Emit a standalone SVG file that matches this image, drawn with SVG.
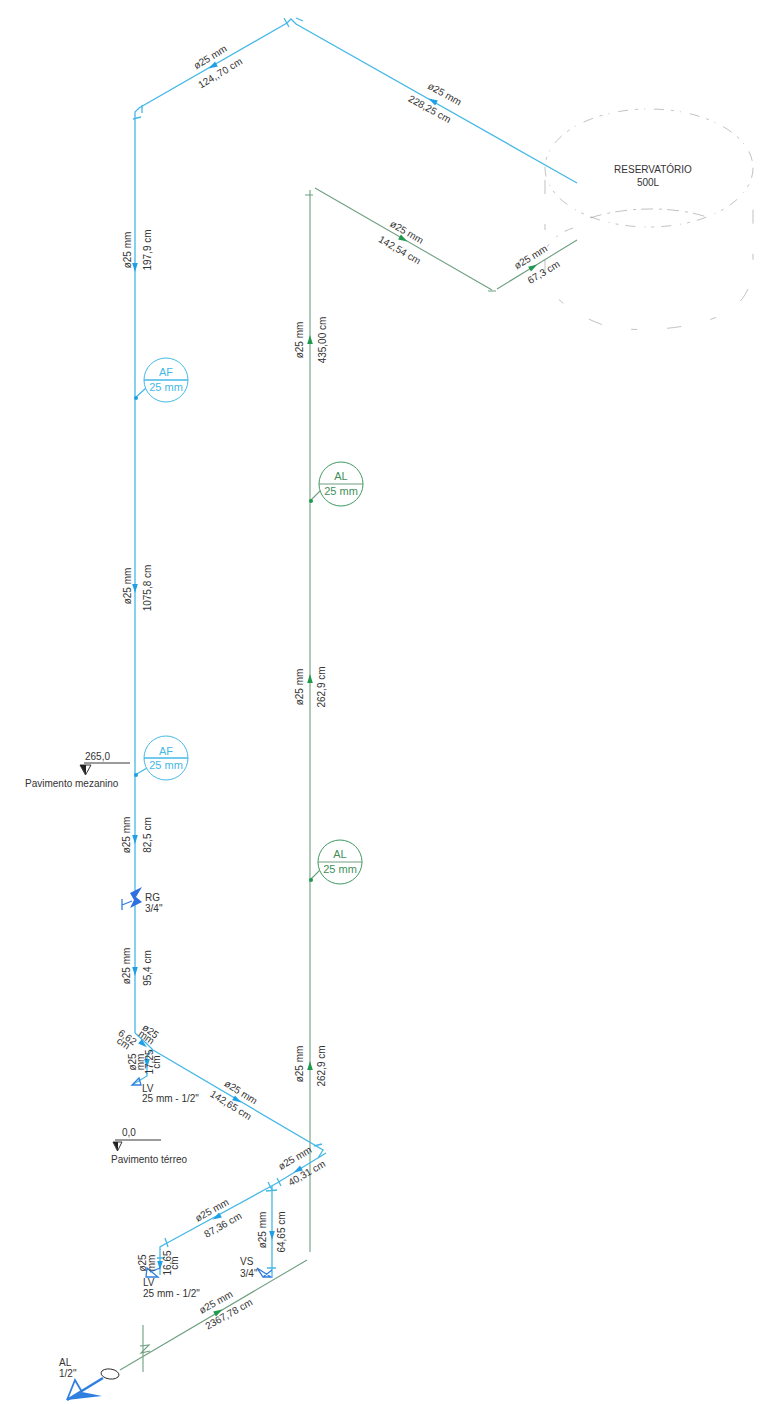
<svg xmlns="http://www.w3.org/2000/svg" xmlns:xlink="http://www.w3.org/1999/xlink" width="763" height="1404" viewBox="0 0 763 1404">
<style>
text{font-family:"Liberation Sans",Arial,sans-serif;font-size:10px;fill:#333}
.b{fill:none;stroke:#45b8e6;stroke-width:1.3}
.g{fill:none;stroke:#6f9f80;stroke-width:1.1}
.t{fill:none;stroke:#666;stroke-width:.8;opacity:.5}
.k{fill:none;stroke:#222;stroke-width:.9}
.ba{fill:#1e9fe6}.ga{fill:#1f9a4d}
.cb{fill:#fff;stroke:#45b8e6;stroke-width:1}
.cg{fill:#fff;stroke:#3f9a5f;stroke-width:1}
.lb{fill:#45b8e6;font-size:11px;text-anchor:middle}
.lg{fill:#3f8f5a;font-size:11px;text-anchor:middle}
.m{text-anchor:middle}
.v{fill:none;stroke:#2f7fe0;stroke-width:1.3}
</style>
<defs><path id="a" d="M5 0L-4 -2.800L-4 2.800Z"/></defs>
<g id="connectors">
<path class="g" d="M143 1325V1372M120 1370L307 1260M310 1252V190M315 188L492 290M497 289L577 240"/>
<path class="g" d="M140 1346L149 1345L141 1353L150 1351"/>
<path class="b" d="M135 1033V112L139 108L287 23L291 19L296 24L577 183"/>
<path class="b" d="M135 1033L146 1043L153 1050L323 1150L318 1158L326 1153L277 1183L167 1243L160 1247V1275"/>
<path class="b" d="M272 1186V1277M152 1050L147 1056V1076L132 1085"/>
<path class="b" d="M142 105L142 113M133 119L141 117M284 18L289 27M296 18L303 21M314 1146L322 1144M268 1182L272 1190M277 1178L281 1186M266 1191L277 1190M165 1238L168 1247M157 1258H164M267 1268H276"/>
<path class="g" d="M305 195H313M488 291H496"/>
<path class="b" d="M135 398L146 388M135 775L147 768"/>
<path class="g" d="M310 501L320 491M310 880L320 870"/>
</g>
<g id="flow-arrows">
<g class="ba">
<use xlink:href="#a" transform="translate(213,66) rotate(150)"/>
<use xlink:href="#a" transform="translate(433,101) rotate(209)"/>
<use xlink:href="#a" transform="translate(135,267) rotate(90)"/>
<use xlink:href="#a" transform="translate(135,588) rotate(90)"/>
<use xlink:href="#a" transform="translate(135,839) rotate(90)"/>
<use xlink:href="#a" transform="translate(135,971) rotate(90)"/>
<use xlink:href="#a" transform="translate(143,1044) rotate(40)"/>
<use xlink:href="#a" transform="translate(147,1063) rotate(90)"/>
<use xlink:href="#a" transform="translate(237,1100) rotate(31)"/>
<use xlink:href="#a" transform="translate(298,1170) rotate(150)"/>
<use xlink:href="#a" transform="translate(217,1217) rotate(150)"/>
<use xlink:href="#a" transform="translate(272,1235) rotate(90)"/>
<use xlink:href="#a" transform="translate(160,1265) rotate(90)"/>
</g>
<g class="ga">
<use xlink:href="#a" transform="translate(310,340) rotate(-90)"/>
<use xlink:href="#a" transform="translate(310,679) rotate(-90)"/>
<use xlink:href="#a" transform="translate(310,1066) rotate(-90)"/>
<use xlink:href="#a" transform="translate(403,239) rotate(30)"/>
<use xlink:href="#a" transform="translate(533,267) rotate(-31)"/>
<use xlink:href="#a" transform="translate(218,1312) rotate(-30)"/>
</g>
</g>
<g id="tank">
<ellipse class="t" cx="649" cy="168" rx="104" ry="59" stroke-dasharray="10 7 3 6 1 9"/>
<path class="t" stroke-dasharray="9 8 2 10" d="M573 228C560 232 552 240 547 247"/>
<path class="t" stroke-dasharray="14 30 6 30" d="M545 180V280C555 305 590 322 613 328C650 332 690 328 717 317C740 308 753 290 753 263V180"/>
<path class="t" stroke-dasharray="12 6 3 5" d="M590 218C620 208 670 204 710 218"/>
<text x="653" y="173" class="m" style="font-weight:500">RESERVATÓRIO</text>
<text x="648" y="186" class="m">500L</text>
</g>
<g id="tag-af-1"><circle class="cb" cx="166" cy="380" r="22"/><path class="b" d="M144 380H188"/><circle class="ba" cx="136" cy="398" r="2"/><text x="166" y="376" class="lb">AF</text><text x="166" y="391" class="lb">25 mm</text></g>
<g id="tag-af-2"><circle class="cb" cx="166" cy="758" r="22"/><path class="b" d="M144 758H188"/><circle class="ba" cx="136" cy="775" r="2"/><text x="166" y="755" class="lb">AF</text><text x="166" y="769" class="lb">25 mm</text></g>
<g id="tag-al-1"><circle class="cg" cx="341" cy="484" r="22"/><path class="g" d="M319 484H363"/><circle class="ga" cx="311" cy="501" r="2"/><text x="341" y="480" class="lg">AL</text><text x="341" y="495" class="lg">25 mm</text></g>
<g id="tag-al-2"><circle class="cg" cx="340" cy="862" r="22"/><path class="g" d="M318 862H362"/><circle class="ga" cx="311" cy="880" r="2"/><text x="340" y="858" class="lg">AL</text><text x="340" y="873" class="lg">25 mm</text></g>
<g id="level-mezanino"><path class="k" d="M84 763H130M80 765H91L85.500 775Z"/><path d="M80 765H86V775Z" style="fill:#222"/><text x="85" y="760">265,0</text><text x="25" y="787">Pavimento mezanino</text></g>
<g id="level-terreo"><path class="k" d="M115 1140H161M113 1142H122L117.500 1151Z"/><path d="M113 1142H118V1151Z" style="fill:#222"/><text x="122" y="1136">0,0</text><text x="111" y="1163">Pavimento térreo</text></g>
<g id="valve-rg"><path style="fill:#2f6fe0" d="M130 893L142 887L136 897L142 902L130 908L134 900Z"/><path class="v" d="M122 899V910M122 905L132 901"/><text x="145" y="901">RG</text><text x="145" y="912">3/4"</text></g>
<g id="lv-upper"><path class="v" d="M132 1085H141L139 1078Z"/><text x="142" y="1092">LV</text><text x="142" y="1102">25 mm - 1/2"</text></g>
<g id="lv-lower"><path class="v" d="M147 1268L158 1277H146ZM150 1272L160 1268"/><text x="143" y="1286">LV</text><text x="143" y="1297">25 mm - 1/2"</text></g>
<g id="vs"><path class="v" d="M257 1268L271 1277H263ZM263 1277L272 1270"/><text x="240" y="1265">VS</text><text x="240" y="1277">3/4"</text></g>
<g id="al-outlet"><ellipse class="k" cx="110" cy="1374" rx="9" ry="5" transform="rotate(8 110 1374)"/><path d="M67 1400L102 1396L82 1392Z" style="fill:#2f7fe0"/><path d="M103 1378L67 1400" style="fill:none;stroke:#2f7fe0;stroke-width:2.500"/><path d="M67 1400L75 1380L82 1392" style="fill:none;stroke:#2f7fe0;stroke-width:1.800"/><text x="59" y="1366">AL</text><text x="59" y="1377">1/2"</text></g>
<g id="labels">
<text class="m" transform="translate(212,60) rotate(-31)">ø25 mm</text>
<text class="m" transform="translate(222,76) rotate(-31)">124,,70 cm</text>
<text class="m" transform="translate(443,97) rotate(29)">ø25 mm</text>
<text class="m" transform="translate(428,112) rotate(29)">228,25 cm</text>
<text class="m" transform="translate(131,250) rotate(-90)">ø25 mm</text>
<text class="m" transform="translate(151,250) rotate(-90)">197,9 cm</text>
<text class="m" transform="translate(131,586) rotate(-90)">ø25 mm</text>
<text class="m" transform="translate(151,588) rotate(-90)">1075,8 cm</text>
<text class="m" transform="translate(130,835) rotate(-90)">ø25 mm</text>
<text class="m" transform="translate(151,835) rotate(-90)">82,5 cm</text>
<text class="m" transform="translate(130,966) rotate(-90)">ø25 mm</text>
<text class="m" transform="translate(151,968) rotate(-90)">95,4 cm</text>
<text class="m" transform="translate(303,340) rotate(-90)">ø25 mm</text>
<text class="m" transform="translate(326,340) rotate(-90)">435,00 cm</text>
<text class="m" transform="translate(303,687) rotate(-90)">ø25 mm</text>
<text class="m" transform="translate(325,687) rotate(-90)">262,9 cm</text>
<text class="m" transform="translate(303,1064) rotate(-90)">ø25 mm</text>
<text class="m" transform="translate(325,1066) rotate(-90)">262,9 cm</text>
<text class="m" transform="translate(405,235) rotate(30)">ø25 mm</text>
<text class="m" transform="translate(398,253) rotate(30)">142,54 cm</text>
<text class="m" transform="translate(532.500,260) rotate(-31)">ø25 mm</text>
<text class="m" transform="translate(545.500,275) rotate(-31)">67,3 cm</text>
<text class="m" transform="translate(148.500,1034) rotate(35)">ø25</text>
<text class="m" transform="translate(144.500,1040) rotate(35)">mm</text>
<text class="m" transform="translate(125.500,1040) rotate(35)">6,62</text>
<text class="m" transform="translate(121.500,1046) rotate(35)">cm</text>
<text class="m" transform="translate(136,1062) rotate(-90)">ø25</text>
<text class="m" transform="translate(144,1062) rotate(-90)">mm</text>
<text class="m" transform="translate(153,1062) rotate(-90)">17,25</text>
<text class="m" transform="translate(160,1062) rotate(-90)">cm</text>
<text class="m" transform="translate(239,1095) rotate(32)">ø25 mm</text>
<text class="m" transform="translate(229,1108) rotate(32)">142,65 cm</text>
<text class="m" transform="translate(296.500,1161) rotate(-30)">ø25 mm</text>
<text class="m" transform="translate(308.500,1176) rotate(-30)">40,31 cm</text>
<text class="m" transform="translate(213.500,1213) rotate(-29)">ø25 mm</text>
<text class="m" transform="translate(224.500,1228) rotate(-29)">87,36 cm</text>
<text class="m" transform="translate(266,1230) rotate(-90)">ø25 mm</text>
<text class="m" transform="translate(284.500,1232) rotate(-90)">64,65 cm</text>
<text class="m" transform="translate(146,1263) rotate(-90)">ø25</text>
<text class="m" transform="translate(155,1263) rotate(-90)">mm</text>
<text class="m" transform="translate(171,1263) rotate(-90)">16,65</text>
<text class="m" transform="translate(178,1263) rotate(-90)">cm</text>
<text class="m" transform="translate(217.500,1305) rotate(-29)">ø25 mm</text>
<text class="m" transform="translate(230.500,1317) rotate(-29)">2367,78 cm</text>
</g>
</svg>
